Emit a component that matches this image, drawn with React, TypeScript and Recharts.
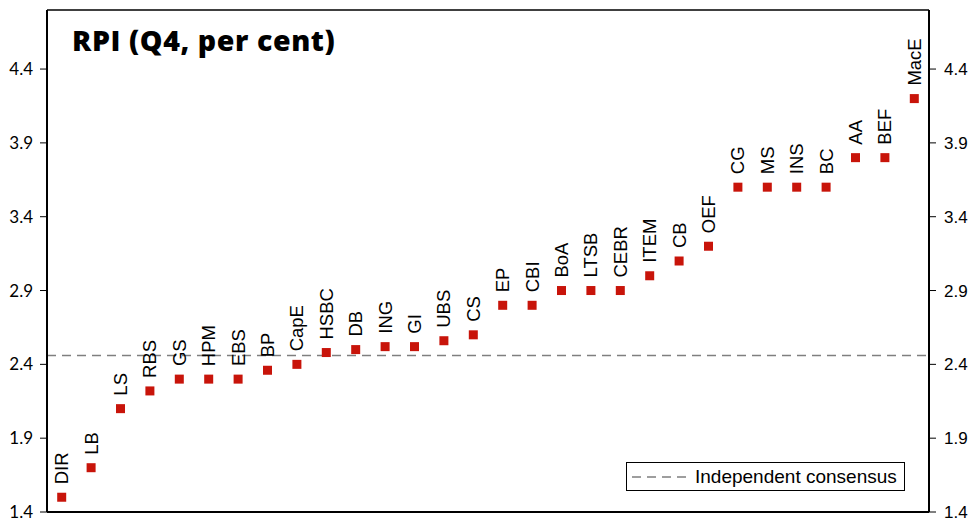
import { ComposedChart, Line, LabelList, ReferenceLine, XAxis, YAxis } from "recharts";

const forecasters = [
  "DIR", "LB", "LS", "RBS", "GS", "HPM", "EBS", "BP", "CapE", "HSBC",
  "DB", "ING", "GI", "UBS", "CS", "EP", "CBI", "BoA", "LTSB", "CEBR",
  "ITEM", "CB", "OEF", "CG", "MS", "INS", "BC", "AA", "BEF", "MacE",
];
const rpiQ4 = [
  1.5, 1.7, 2.1, 2.22, 2.3, 2.3, 2.3, 2.36, 2.4, 2.48,
  2.5, 2.52, 2.52, 2.56, 2.6, 2.8, 2.8, 2.9, 2.9, 2.9,
  3.0, 3.1, 3.2, 3.6, 3.6, 3.6, 3.6, 3.8, 3.8, 4.2,
];
const consensus = 2.46;
const yTicks = [1.4, 1.9, 2.4, 2.9, 3.4, 3.9, 4.4];

const data = forecasters.map((name, i) => ({ idx: i, name, rpi: rpiQ4[i] }));

const RED = "#c8140a";

function Marker(props: any) {
  const { cx, cy } = props;
  if (cx == null || cy == null) return null;
  return <rect x={cx - 4.5} y={cy - 4.5} width={9} height={9} fill={RED} />;
}

function NameLabel(props: any) {
  const { x, y, value } = props;
  const bx = x + 6.5;
  const by = y - 13;
  return (
    <text
      x={bx}
      y={by}
      transform={`rotate(-90, ${bx}, ${by})`}
      textAnchor="start"
      fontSize={18.5}
      fontFamily="Liberation Sans, Arial, sans-serif"
      fill="#000"
    >
      {value}
    </text>
  );
}

export default function App() {
  return (
    <div style={{ position: "absolute", left: 0, top: 0, width: 972, height: 520, background: "#fff" }}>
      <ComposedChart
        width={972}
        height={520}
        data={data}
        margin={{ top: 10, right: 0, bottom: 0, left: 0 }}
      >
        <XAxis
          dataKey="idx"
          type="number"
          domain={[-0.5, 29.5]}
          height={8}
          tick={false}
          tickLine={false}
          axisLine={{ stroke: "#000", strokeWidth: 2 }}
        />
        <YAxis
          yAxisId="left"
          orientation="left"
          width={47}
          domain={[1.4, 4.8]}
          ticks={yTicks}
          interval={0}
          allowDataOverflow
          tickLine={{ stroke: "#000", strokeWidth: 1 }}
          tickSize={7}
          tickMargin={7}
          axisLine={{ stroke: "#000", strokeWidth: 2 }}
          tick={{ fill: "#000", fontSize: 17, fontFamily: "Lato, sans-serif" }}
          tickFormatter={(v: number) => v.toFixed(1)}
        />
        <YAxis
          yAxisId="right"
          orientation="right"
          width={43}
          domain={[1.4, 4.8]}
          ticks={yTicks}
          interval={0}
          allowDataOverflow
          tickLine={{ stroke: "#000", strokeWidth: 1 }}
          tickSize={7}
          tickMargin={8}
          axisLine={{ stroke: "#000", strokeWidth: 2 }}
          tick={{ fill: "#000", fontSize: 17, fontFamily: "Liberation Sans, Arial, sans-serif" }}
          tickFormatter={(v: number) => v.toFixed(1)}
        />
        <ReferenceLine yAxisId="left" y={4.8} stroke="#000" strokeWidth={1.5} ifOverflow="visible" />
        <ReferenceLine
          yAxisId="left"
          y={consensus}
          stroke="#7f7f7f"
          strokeWidth={1.3}
          strokeDasharray="9 6"
        />
        <Line
          yAxisId="left"
          dataKey="rpi"
          stroke="none"
          dot={<Marker />}
          activeDot={false}
          isAnimationActive={false}
        >
          <LabelList dataKey="name" content={<NameLabel />} />
        </Line>
      </ComposedChart>
      <div
        style={{
          position: "absolute",
          left: 72,
          top: 21,
          fontFamily: "Open Sans, sans-serif",
          fontWeight: 800,
          fontSize: 28.5,
          letterSpacing: 0.6,
          lineHeight: "38px",
          color: "#000",
          whiteSpace: "nowrap",
        }}
      >
        RPI (Q4, per cent)
      </div>
      <div
        style={{
          position: "absolute",
          left: 626,
          top: 462,
          width: 279,
          height: 29,
          boxSizing: "border-box",
          border: "1px solid #000",
          background: "#fff",
          display: "flex",
          alignItems: "center",
          fontFamily: "Liberation Sans, Arial, sans-serif",
          fontSize: 19,
          color: "#000",
          whiteSpace: "nowrap",
        }}
      >
        <svg width={60} height={10} style={{ marginLeft: 5, marginRight: 3 }}>
          <line x1={0} y1={5} x2={57} y2={5} stroke="#7f7f7f" strokeWidth={1.3} strokeDasharray="9 6" />
        </svg>
        Independent consensus
      </div>
    </div>
  );
}
